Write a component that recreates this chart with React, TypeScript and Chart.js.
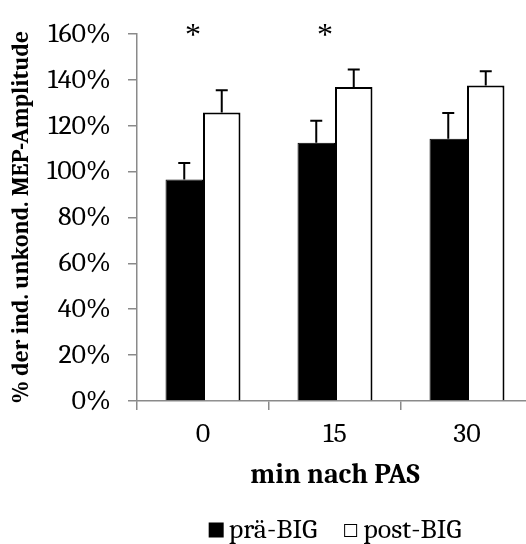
import React, { useEffect, useRef } from "react";
import { Chart, registerables } from "chart.js";

Chart.register(...registerables);

const categories = ["0", "15", "30"];
const preBig = [96.5, 112.5, 114.3];
const preBigErr = [7.2, 9.6, 11.2];
const postBig = [125.7, 136.8, 137.5];
const postBigErr = [9.7, 7.6, 6.2];
const significant = [true, true, false];
const seriesNames = ["prä-BIG", "post-BIG"];
const yTitle = "% der ind. unkond. MEP-Amplitude";
const xTitle = "min nach PAS";

const FONT = "Caladea, Cambria, 'DejaVu Serif', serif";
const STAR_FONT = "'Liberation Serif', serif";
const AXIS_GRAY = "#8a8a8a";

const errorBarPlugin = {
  id: "errorBars",
  afterDatasetsDraw(chart: any) {
    const ctx = chart.ctx;
    const yScale = chart.scales.y;
    const errs = [preBigErr, postBigErr];
    ctx.save();
    ctx.strokeStyle = "#000";
    ctx.lineWidth = 2;
    chart.data.datasets.forEach((ds: any, di: number) => {
      const meta = chart.getDatasetMeta(di);
      meta.data.forEach((bar: any, i: number) => {
        const v = ds.data[i];
        const top = yScale.getPixelForValue(v + errs[di][i]);
        const x = bar.x;
        ctx.beginPath();
        ctx.moveTo(x, bar.y);
        ctx.lineTo(x, top);
        ctx.moveTo(x - 6, top);
        ctx.lineTo(x + 6, top);
        ctx.stroke();
      });
    });
    ctx.restore();
  },
};

const annotationPlugin = {
  id: "annotations",
  afterDraw(chart: any) {
    const ctx = chart.ctx;
    const xScale = chart.scales.x;
    const area = chart.chartArea;
    ctx.save();
    // significance asterisks
    ctx.fillStyle = "#000";
    ctx.font = `32px ${STAR_FONT}`;
    ctx.textAlign = "center";
    ctx.textBaseline = "alphabetic";
    significant.forEach((s, i) => {
      if (!s) return;
      const x = xScale.getPixelForValue(i) - 10;
      ctx.fillText("*", x, area.top + 11);
    });
    // legend
    ctx.font = `28px ${FONT}`;
    ctx.textAlign = "left";
    ctx.textBaseline = "middle";
    const box = 15;
    const gap = 5;
    const itemGap = 26;
    const w0 = ctx.measureText(seriesNames[0]).width;
    const w1 = ctx.measureText(seriesNames[1]).width;
    const total = box + gap + w0 + itemGap + box + gap + w1;
    const cx = (area.left + area.right) / 2;
    const y = 530;
    let x = cx - total / 2;
    ctx.fillStyle = "#000";
    ctx.fillRect(x, y - box / 2, box, box);
    x += box + gap;
    ctx.fillText(seriesNames[0], x, y);
    x += w0 + itemGap;
    ctx.fillStyle = "#fff";
    ctx.strokeStyle = "#000";
    ctx.lineWidth = 1;
    ctx.fillRect(x + 1, y - 6, 13, 13);
    ctx.strokeRect(x + 1.5, y - 5.5, 12, 12);
    x += box + gap;
    ctx.fillStyle = "#000";
    ctx.fillText(seriesNames[1], x, y);
    ctx.restore();
  },
};

export default function App() {
  const canvasRef = useRef<HTMLCanvasElement | null>(null);

  useEffect(() => {
    const canvas = canvasRef.current;
    if (!canvas) return;
    const chart = new Chart(canvas, {
      type: "bar",
      data: {
        labels: categories,
        datasets: [
          {
            label: seriesNames[0],
            data: preBig,
            backgroundColor: "#000000",
            borderColor: "#000000",
            borderWidth: 1,
            barPercentage: 1,
            categoryPercentage: 0.568,
          },
          {
            label: seriesNames[1],
            data: postBig,
            backgroundColor: "#ffffff",
            borderColor: "#000000",
            borderWidth: 2,
            barPercentage: 1,
            categoryPercentage: 0.568,
          },
        ],
      },
      options: {
        responsive: false,
        animation: false,
        devicePixelRatio: 1,
        layout: { padding: { top: 28, left: 0, right: 7, bottom: 0 } },
        plugins: {
          legend: { display: false },
          tooltip: { enabled: false },
        },
        scales: {
          x: {
            afterFit(scale: any) {
              scale.height = 143;
            },
            grid: {
              display: true,
              drawOnChartArea: false,
              drawTicks: true,
              tickLength: 9,
              color: AXIS_GRAY,
              lineWidth: 1.5,
            },
            border: { display: true, color: AXIS_GRAY, width: 1.5 },
            ticks: {
              color: "#000",
              font: { family: FONT, size: 28 },
              padding: 7,
              maxRotation: 0,
            },
            title: {
              display: true,
              text: xTitle,
              color: "#000",
              font: { family: FONT, size: 28, weight: "bold" },
              padding: { top: 0, bottom: 52 },
            },
          },
          y: {
            min: 0,
            max: 160,
            afterFit(scale: any) {
              scale.width = 137;
            },
            grid: {
              display: true,
              drawOnChartArea: false,
              drawTicks: true,
              tickLength: 9,
              color: AXIS_GRAY,
              lineWidth: 1.5,
            },
            border: { display: true, color: AXIS_GRAY, width: 1.5 },
            ticks: {
              stepSize: 20,
              color: "#000",
              font: { family: FONT, size: 28 },
              padding: 17,
              callback: (v: any) => `${v}%`,
            },
            title: {
              display: true,
              text: yTitle,
              color: "#000",
              font: { family: FONT, size: 23.5, weight: "bold" },
              padding: { top: 7, bottom: 0 },
            },
          },
        },
      },
      plugins: [errorBarPlugin, annotationPlugin],
    });
    return () => chart.destroy();
  }, []);

  return (
    <div
      style={{
        position: "fixed",
        left: 0,
        top: 0,
        width: 526,
        height: 544,
        overflow: "hidden",
        background: "#fff",
      }}
    >
      <canvas ref={canvasRef} width={540} height={544} style={{ display: "block" }} />
    </div>
  );
}
